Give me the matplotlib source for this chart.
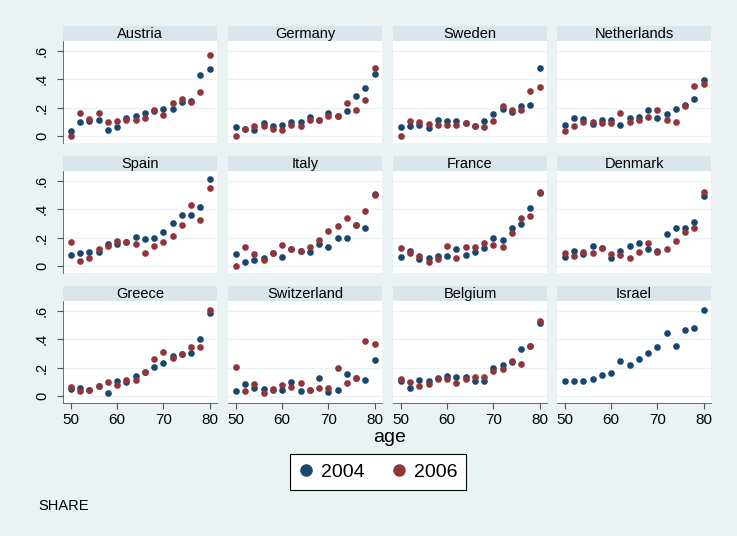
import matplotlib.pyplot as plt
from matplotlib.lines import Line2D

plt.rcParams['font.family'] = ['Liberation Sans', 'DejaVu Sans']

ages = list(range(50, 81, 2))

countries = ['Austria', 'Germany', 'Sweden', 'Netherlands',
             'Spain', 'Italy', 'France', 'Denmark',
             'Greece', 'Switzerland', 'Belgium', 'Israel']

y2004 = {
    'Austria': [0.033, 0.095, 0.105, 0.114, 0.045, 0.064, 0.13, 0.14,
                0.16, 0.176, 0.19, 0.19, 0.24, 0.25, 0.43, 0.47],
    'Germany': [0.062, 0.05, 0.045, 0.088, 0.071, 0.076, 0.095, 0.10,
                0.133, 0.11, 0.16, 0.14, 0.174, 0.283, 0.338, 0.44],
    'Sweden': [0.064, 0.071, 0.078, 0.055, 0.11, 0.107, 0.107, 0.088,
               0.069, 0.105, 0.155, 0.188, 0.167, 0.212, 0.217, 0.48],
    'Netherlands': [0.076, 0.13, 0.117, 0.086, 0.114, 0.11, 0.079, 0.124,
                    0.133, 0.18, 0.13, 0.157, 0.193, 0.217, 0.262, 0.393],
    'Spain': [0.078, 0.094, 0.10, 0.096, 0.158, 0.153, 0.17, 0.207,
              0.188, 0.198, 0.238, 0.303, 0.36, 0.362, 0.416, 0.614],
    'Italy': [0.087, 0.028, 0.04, 0.054, 0.092, 0.061, 0.12, 0.108,
              0.096, 0.158, 0.134, 0.198, 0.195, 0.289, 0.266, 0.51],
    'France': [0.066, 0.106, 0.047, 0.056, 0.07, 0.07, 0.12, 0.078,
               0.099, 0.125, 0.20, 0.18, 0.27, 0.294, 0.407, 0.518],
    'Denmark': [0.064, 0.104, 0.082, 0.139, 0.125, 0.059, 0.108, 0.141,
                0.165, 0.122, 0.108, 0.224, 0.266, 0.266, 0.313, 0.496],
    'Greece': [0.052, 0.055, 0.045, 0.067, 0.024, 0.107, 0.10, 0.14,
               0.169, 0.202, 0.23, 0.283, 0.295, 0.30, 0.404, 0.584],
    'Switzerland': [0.038, 0.086, 0.059, 0.05, 0.043, 0.045, 0.095, 0.036,
                    0.045, 0.126, 0.026, 0.043, 0.157, 0.128, 0.114, 0.257],
    'Belgium': [0.107, 0.059, 0.109, 0.107, 0.128, 0.14, 0.135, 0.133,
                0.107, 0.107, 0.20, 0.219, 0.238, 0.328, 0.349, 0.515],
    'Israel': [0.102, 0.102, 0.102, 0.119, 0.145, 0.164, 0.245, 0.216,
               0.261, 0.304, 0.347, 0.447, 0.349, 0.463, 0.48, 0.608],
}

y2006 = {
    'Austria': [0.0, 0.16, 0.12, 0.165, 0.10, 0.105, 0.11, 0.11,
                0.125, 0.18, 0.15, 0.235, 0.26, 0.24, 0.31, 0.57],
    'Germany': [0.0, 0.05, 0.07, 0.067, 0.052, 0.043, 0.08, 0.07,
                0.114, 0.112, 0.14, 0.143, 0.233, 0.18, 0.252, 0.48],
    'Sweden': [0.0, 0.102, 0.098, 0.086, 0.076, 0.076, 0.078, 0.088,
               0.069, 0.062, 0.105, 0.212, 0.183, 0.18, 0.314, 0.343],
    'Netherlands': [0.033, 0.067, 0.095, 0.10, 0.088, 0.093, 0.16, 0.095,
                    0.112, 0.136, 0.18, 0.114, 0.10, 0.212, 0.35, 0.367],
    'Spain': [0.167, 0.038, 0.054, 0.122, 0.139, 0.176, 0.17, 0.158,
              0.094, 0.141, 0.167, 0.209, 0.287, 0.428, 0.322, 0.548],
    'Italy': [0.0, 0.132, 0.087, 0.042, 0.089, 0.146, 0.12, 0.108,
              0.132, 0.184, 0.245, 0.285, 0.339, 0.289, 0.386, 0.50],
    'France': [0.129, 0.089, 0.068, 0.031, 0.052, 0.139, 0.059, 0.132,
               0.136, 0.162, 0.148, 0.134, 0.235, 0.339, 0.353, 0.525],
    'Denmark': [0.092, 0.071, 0.101, 0.092, 0.127, 0.082, 0.078, 0.054,
                0.101, 0.165, 0.101, 0.118, 0.176, 0.238, 0.266, 0.525],
    'Greece': [0.062, 0.036, 0.045, 0.069, 0.095, 0.076, 0.109, 0.114,
               0.169, 0.261, 0.311, 0.268, 0.295, 0.344, 0.344, 0.606],
    'Switzerland': [0.204, 0.038, 0.081, 0.024, 0.052, 0.074, 0.064, 0.09,
                    0.045, 0.055, 0.059, 0.195, 0.093, 0.128, 0.385, 0.368],
    'Belgium': [0.121, 0.095, 0.071, 0.086, 0.121, 0.116, 0.093, 0.116,
                0.135, 0.131, 0.176, 0.19, 0.249, 0.228, 0.354, 0.527],
    'Israel': None,
}

yticks = [0, 0.2, 0.4, 0.6]
ytick_labels = ['0', '.2', '.4', '.6']
xticks = [50, 60, 70, 80]

navy = '#1a476f'
maroon = '#90353b'
bg = '#eaf2f3'
strip_color = '#d9e6eb'

W, H = 737, 536
fig = plt.figure(figsize=(W / 100, H / 100), dpi=100, facecolor=bg)

col_left = [63, 228, 393, 557]
row_top = [41, 171, 301]
pw, ph = 154, 102
sh = 15

for i, c in enumerate(countries):
    r, k = divmod(i, 4)
    x0, y0 = col_left[k], row_top[r]
    ax = fig.add_axes([x0 / W, 1 - (y0 + ph) / H, pw / W, ph / H])
    ax.set_facecolor('white')
    ax.set_xlim(48.3, 81.6)
    ax.set_ylim(-0.05, 0.67)
    ax.set_yticks(yticks)
    ax.grid(axis='y', color=bg, linewidth=1.0)
    ax.set_axisbelow(True)
    ax.plot(ages, y2004[c], 'o', color=navy, markersize=4.8, markeredgewidth=0)
    if y2006[c] is not None:
        ax.plot(ages, y2006[c], 'o', color=maroon, markersize=4.8, markeredgewidth=0)
    for s in ax.spines.values():
        s.set_visible(False)
    ax.set_xticks(xticks)
    if k == 0:
        ax.set_yticklabels(ytick_labels, rotation=90, va='center', fontsize=10.5)
        ax.tick_params(axis='y', length=4, color='#555555', pad=6)
        ax.spines['left'].set_visible(True)
        ax.spines['left'].set_color('#555555')
        ax.spines['left'].set_linewidth(0.6)
    else:
        ax.tick_params(axis='y', length=0, labelleft=False)
    if r == 2:
        ax.set_xticklabels([str(v) for v in xticks], fontsize=11)
        ax.tick_params(axis='x', length=4, color='#555555', pad=3)
        ax.spines['bottom'].set_visible(True)
        ax.spines['bottom'].set_color('#555555')
        ax.spines['bottom'].set_linewidth(0.6)
    else:
        ax.tick_params(axis='x', length=0, labelbottom=False)

    sax = fig.add_axes([x0 / W, 1 - y0 / H, pw / W, sh / H])
    sax.set_facecolor(strip_color)
    sax.set_xticks([])
    sax.set_yticks([])
    for s in sax.spines.values():
        s.set_visible(False)
    sax.text(0.5, 0.45, c, ha='center', va='center', fontsize=10.5,
             transform=sax.transAxes)

fig.text(390 / W, 1 - 438 / H, 'age', ha='center', va='center', fontsize=14)

handles = [Line2D([], [], marker='o', linestyle='', color=navy, markersize=8),
           Line2D([], [], marker='o', linestyle='', color=maroon, markersize=8)]
leg = fig.legend(handles, ['2004', '2006'], ncol=2, loc='center',
                 bbox_to_anchor=(378 / W, 1 - 472 / H), fontsize=14,
                 frameon=True, fancybox=False, edgecolor='black',
                 framealpha=1, facecolor='white',
                 handlelength=0.8, handletextpad=0.35, columnspacing=1.4,
                 borderpad=0.45, borderaxespad=0)
leg.get_frame().set_linewidth(0.8)

fig.text(38 / W, 1 - 506 / H, 'SHARE', ha='left', va='center', fontsize=10.5)

fig.savefig('out.png', dpi=100, facecolor=bg)
